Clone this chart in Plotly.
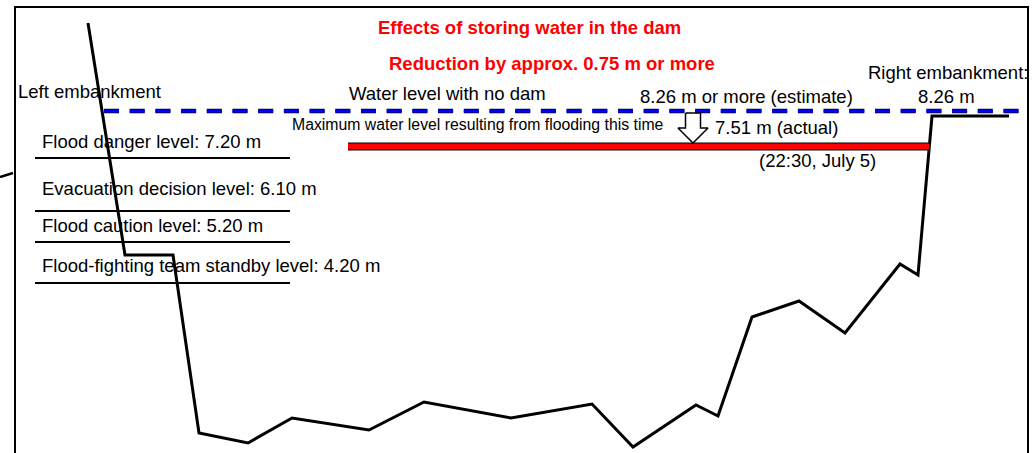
import plotly.graph_objects as go

# ---------------- data (schematic cross-section, height units: 0 = bottom) -------------
terrain_x = [88, 125, 173, 199, 248, 292, 369, 424, 511, 592, 633, 696, 718, 752, 799, 845, 900, 918, 932, 1009]
terrain_h = [430, 198, 198, 20, 10, 35, 23, 51, 35, 49, 6, 48, 37, 136, 152, 120, 189, 178, 337, 337]

stub_x = [0, 13]
stub_h = [276, 280]

level_names = ["Flood danger level", "Evacuation decision level",
               "Flood caution level", "Flood-fighting team standby level"]
level_values = ["7.20", "6.10", "5.20", "4.20"]
level_h = [295, 242, 211, 170]
level_label_h = [312, 265, 228, 188]
level_x = [35, 290]

nodam_label = "8.26 m or more (estimate)"
nodam_x = [104, 1020]
nodam_h = 342

actual_label = "7.51 m (actual)"
actual_time = "(22:30, July 5)"
actual_x = [348, 929]
actual_h = 306.5

arrow_tip_x = 693

# ---------------- styling ----------------
FONT = "Liberation Sans, Arial, sans-serif"
W, H = 1035, 453

fig = go.Figure()

# terrain profile
fig.add_trace(go.Scatter(x=terrain_x, y=terrain_h, mode="lines",
                         line=dict(color="black", width=3), hoverinfo="skip"))
fig.add_trace(go.Scatter(x=stub_x, y=stub_h, mode="lines",
                         line=dict(color="black", width=2.5), hoverinfo="skip"))

# warning level lines
for lh in level_h:
    fig.add_trace(go.Scatter(x=level_x, y=[lh, lh], mode="lines",
                             line=dict(color="black", width=2), hoverinfo="skip"))

# water level without dam (dashed blue with dark edge)
fig.add_trace(go.Scatter(x=nodam_x, y=[nodam_h, nodam_h], mode="lines",
                         line=dict(color="#000033", width=4.5, dash="15px,10.7px"), hoverinfo="skip"))
fig.add_trace(go.Scatter(x=nodam_x, y=[nodam_h, nodam_h], mode="lines",
                         line=dict(color="#0000ff", width=3, dash="15px,10.7px"), hoverinfo="skip"))

# actual maximum water level (red bar with black edge)
fig.add_trace(go.Scatter(x=actual_x, y=[actual_h, actual_h], mode="lines",
                         line=dict(color="black", width=8), hoverinfo="skip"))
fig.add_trace(go.Scatter(x=actual_x, y=[actual_h, actual_h], mode="lines",
                         line=dict(color="#ff0000", width=6), hoverinfo="skip"))

# hollow down arrow from the no-dam level to the actual level
tip_h = actual_h + 3.5
sw, hw, hl = 7.5, 15, 15
top_h = nodam_h - 2
ax_ = [arrow_tip_x - sw, arrow_tip_x + sw, arrow_tip_x + sw, arrow_tip_x + hw,
       arrow_tip_x, arrow_tip_x - hw, arrow_tip_x - sw, arrow_tip_x - sw]
ay_ = [top_h, top_h, tip_h + hl, tip_h + hl, tip_h, tip_h + hl, tip_h + hl, top_h]
fig.add_trace(go.Scatter(x=ax_, y=ay_, mode="lines", fill="toself", fillcolor="white",
                         line=dict(color="black", width=1.5), hoverinfo="skip"))

# frame (open at bottom)
fig.add_shape(type="path", path="M 15,-20 L 15,446 L 1028,446 L 1028,-20",
              line=dict(color="black", width=2), xref="x", yref="y")


def txt(x, y, s, anchor="left", size=18.5, color="black", bold=False):
    if bold:
        s = f"<b>{s}</b>"
    fig.add_annotation(x=x, y=y, text=s, showarrow=False, xanchor=anchor, yanchor="middle",
                       font=dict(family=FONT, size=size, color=color), borderpad=0)


txt(529.5, H - 27, "Effects of storing water in the dam", anchor="center", color="#ff0000", bold=True)
txt(552, H - 63, "Reduction by approx. 0.75 m or more", anchor="center", color="#ff0000", bold=True)
txt(17, H - 91, "Left embankment")
txt(348, H - 93, "Water level with no dam")
txt(639, H - 96, nodam_label)
txt(867, H - 72, "Right embankment:")
txt(946, H - 96, "8.26 m", anchor="center")
txt(714, H - 127, actual_label)
txt(758, H - 160, actual_time)
txt(291, H - 124, "Maximum water level resulting from flooding this time", size=15.8)

for name, val, ly in zip(level_names, level_values, level_label_h):
    txt(41, ly, f"{name}: {val} m")

fig.update_layout(
    width=W, height=H, margin=dict(l=0, r=0, t=0, b=0),
    paper_bgcolor="white", plot_bgcolor="white", showlegend=False,
    xaxis=dict(range=[0, W], visible=False, fixedrange=True),
    yaxis=dict(range=[0, H], visible=False, fixedrange=True),
)

fig.write_html("out.html", config={"displayModeBar": False},
               post_script="document.body.style.margin='0';document.body.style.overflow='hidden';")
